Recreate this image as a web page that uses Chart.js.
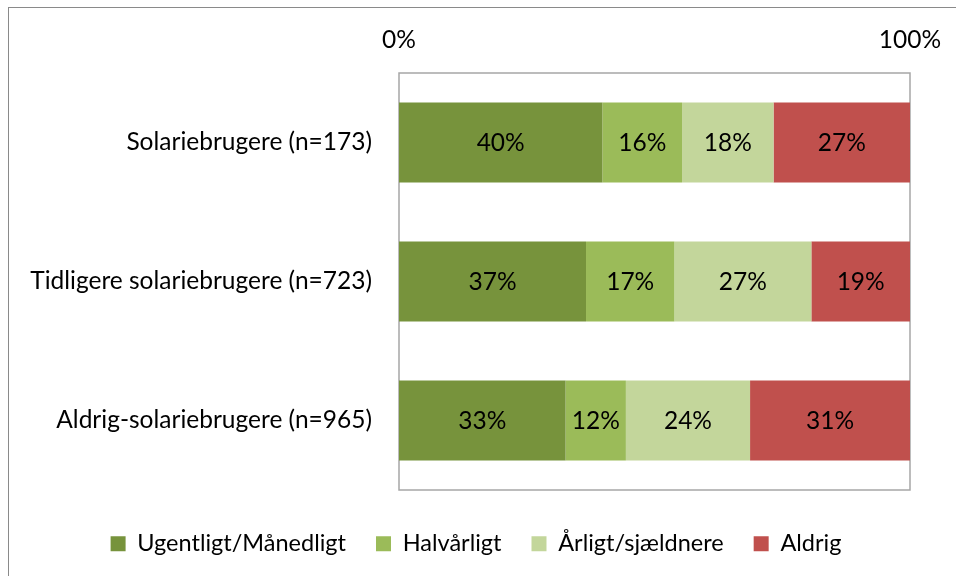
<!DOCTYPE html>
<html>
<head>
<meta charset="utf-8">
<script src="https://cdn.jsdelivr.net/npm/chart.js@4/dist/chart.umd.min.js"></script>
<style>
  html, body { margin: 0; padding: 0; background: #ffffff; }
  #wrap { position: relative; width: 956px; height: 576px; }
  #frame { position: absolute; left: 8px; top: 7px; right: -2px; bottom: -2px; border-left: 1.5px solid #8a8a8a; border-top: 1.5px solid #8a8a8a; pointer-events: none; }
  canvas { position: absolute; left: 0; top: 0; }
</style>
</head>
<body>
<div id="wrap">
  <canvas id="c" width="956" height="576"></canvas>
  <div id="frame"></div>
</div>
<script>
const categories = ['Solariebrugere (n=173)', 'Tidligere solariebrugere (n=723)', 'Aldrig-solariebrugere (n=965)'];
const seriesNames = ['Ugentligt/Månedligt', 'Halvårligt', 'Årligt/sjældnere', 'Aldrig'];
const ugentligt = [39.8, 36.6, 32.6];
const halvaarligt = [15.6, 17.3, 11.8];
const aarligt = [17.9, 26.8, 24.3];
const aldrig = [26.7, 19.3, 31.3];
const xTickValues = [0, 100];

const colors = ['#77933C', '#9BBB59', '#C3D69B', '#C0504D'];
const FONT = 'Lato, "Open Sans", sans-serif';
const FS = 24.5;
const LFS = 23.5;

const datasets = [ugentligt, halvaarligt, aarligt, aldrig].map((d, i) => ({
  label: seriesNames[i],
  data: d,
  backgroundColor: colors[i],
  borderWidth: 0,
  categoryPercentage: 1.0,
  barPercentage: 0.575
}));

const plotFrame = {
  id: 'plotFrame',
  beforeUpdate(chart) {
    const lg = chart.legend;
    if (lg && !lg._patched) {
      const f = lg.fit;
      lg.fit = function () { f.call(this); this.height = 86; };
      lg._patched = true;
    }
  },
  afterLayout(chart) {
    const lg = chart.legend;
    lg.top += 12;
    lg.left += 21;
    lg.right += 21;
  },
  beforeDatasetsDraw(chart) {
    const {ctx, chartArea: a} = chart;
    ctx.save();
    ctx.strokeStyle = '#a6a6a6';
    ctx.lineWidth = 1.5;
    ctx.strokeRect(a.left, a.top, a.right - a.left, a.bottom - a.top);
    ctx.restore();
  },
  afterDatasetsDraw(chart) {
    const {ctx} = chart;
    ctx.save();
    ctx.font = FS + 'px ' + FONT;
    ctx.fillStyle = '#000000';
    ctx.textAlign = 'center';
    ctx.textBaseline = 'middle';
    chart.data.datasets.forEach((ds, di) => {
      chart.getDatasetMeta(di).data.forEach((el, i) => {
        const p = el.getProps(['x', 'y', 'base'], true);
        ctx.fillText(Math.round(ds.data[i]) + '%', (p.x + p.base) / 2, p.y + 1);
      });
    });
    ctx.restore();
  }
};

new Chart(document.getElementById('c'), {
  type: 'bar',
  data: { labels: categories, datasets },
  plugins: [plotFrame],
  options: {
    indexAxis: 'y',
    responsive: false,
    animation: false,
    layout: { padding: { left: 0, right: 46, top: 0, bottom: 0 } },
    scales: {
      x: {
        position: 'top',
        stacked: true,
        min: 0, max: 100,
        afterBuildTicks(scale) { scale.ticks = xTickValues.map(v => ({ value: v })); },
        afterFit(scale) {
          scale.height = 73;
          scale.paddingLeft = 0;
          scale.paddingRight = 0;
        },
        grid: { display: false, drawTicks: false },
        border: { display: false },
        ticks: {
          padding: 18,
          color: '#000000',
          font: { family: FONT, size: FS },
          maxRotation: 0,
          callback: v => v + '%'
        }
      },
      y: {
        stacked: true,
        afterFit(scale) { scale.width = 399; },
        grid: { display: false, drawTicks: false },
        border: { display: false },
        ticks: {
          padding: 27,
          color: '#000000',
          font: { family: FONT, size: FS }
        }
      }
    },
    plugins: {
      tooltip: { enabled: false },
      legend: {
        position: 'bottom',
        labels: {
          boxWidth: 15,
          boxHeight: 15,
          padding: 30,
          color: '#000000',
          font: { family: FONT, size: LFS }
        }
      }
    }
  }
});
</script>
</body>
</html>
